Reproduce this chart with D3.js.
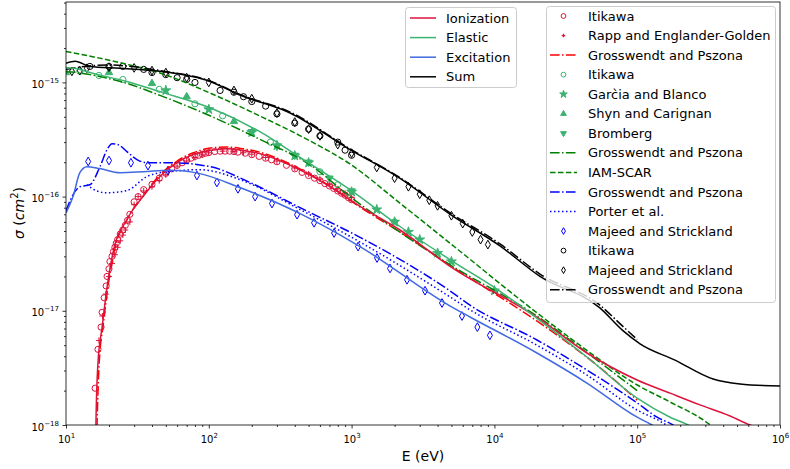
<!DOCTYPE html>
<meta charset="utf-8">
<script src="https://d3js.org/d3.v7.min.js"></script>
<style>
body { margin: 0; background: #fff; }
text { font-family: "DejaVu Sans", sans-serif; }
</style>
<body>
<script>

// cross sections, [E (eV), sigma (cm^2)]
var ionization = [[16.1,5e-19],[16.2,1e-18],[16.75,3.5e-18],[17.9,7.2e-18],[19.4,1.62e-17],[21.3,3.2e-17],[26.7,6.3e-17],[34.6,1e-16],[45.5,1.5e-16],[59.8,1.98e-16],[77.4,2.33e-16],[102,2.53e-16],[134,2.63e-16],[174,2.53e-16],[228,2.38e-16],[389,1.83e-16],[673,1.27e-16],[1146,8.2e-17],[2180,5.1e-17],[4890,2.45e-17],[19860,8.8e-18],[44450,4.27e-18],[99800,2.48e-18],[170000,1.9e-18],[275000,1.5e-18],[447000,1.2e-18],[616000,1e-18],[800000,9e-19]];
var elastic = [[10,1.35e-15],[12.5,1.3e-15],[14.7,1.22e-15],[26.7,1.02e-15],[45.5,8.3e-16],[102,6.0e-16],[228,3.7e-16],[436,2.2e-16],[975,1.15e-16],[2170,5.5e-17],[5130,2.7e-17],[10400,1.55e-17],[19860,8.6e-18],[44450,3.94e-18],[100000,1.72e-18],[170000,1.17e-18],[227000,1e-18],[260000,9e-19]];
var excitation = [[10,7.2e-17],[11.2,1.0e-16],[12.5,1.62e-16],[14,1.83e-16],[17.3,1.76e-16],[23.9,1.62e-16],[34.6,1.65e-16],[53.5,1.7e-16],[86.8,1.59e-16],[165,1.2e-16],[436,7.1e-17],[1146,3.65e-17],[4900,1.1e-17],[6745,8.83e-18],[19860,4.27e-18],[44450,2.33e-18],[100000,1.17e-18],[127000,1e-18],[145000,9e-19]];
var sum = [[10,1.47e-15],[11.6,1.53e-15],[14.7,1.38e-15],[23.9,1.33e-15],[45.5,1.25e-15],[102,1.02e-15],[165,7.76e-16],[371,5.4e-16],[975,2.58e-16],[2170,1.45e-16],[4900,7.0e-17],[10940,3.7e-17],[20850,2.0e-17],[54800,1.06e-17],[79400,6.7e-18],[104700,5.14e-18],[184000,3.7e-18],[340000,2.53e-18],[525000,2.29e-18],[1e6,2.19e-18]];

var ionItikawa = [[16,2.1e-18],[16.75,4.6e-18],[17.6,7.2e-18],[17.9,9.7e-18],[18.5,1.3e-17],[19.1,1.65e-17],[19.4,2.0e-17],[20,2.33e-17],[20.3,2.7e-17],[21,3.0e-17],[21.5,3.3e-17],[22,3.6e-17],[22.5,3.9e-17],[23,4.2e-17],[24,4.7e-17],[25,5.1e-17],[26,5.6e-17],[27,6.2e-17],[28,7.0e-17],[30,9.0e-17],[32,1.0e-16],[35,1.15e-16],[40,1.28e-16],[45,1.45e-16],[50,1.6e-16],[55,1.75e-16],[60,1.88e-16],[65,1.98e-16],[70,2.08e-16],[75,2.17e-16],[80,2.25e-16],[85,2.3e-16],[90,2.35e-16],[95,2.4e-16],[100,2.43e-16],[110,2.48e-16],[120,2.5e-16],[130,2.5e-16],[140,2.5e-16],[150,2.48e-16],[160,2.45e-16],[180,2.4e-16],[200,2.33e-16],[225,2.25e-16],[250,2.17e-16],[275,2.1e-16],[300,2.02e-16],[350,1.88e-16],[400,1.75e-16],[450,1.63e-16],[500,1.53e-16],[550,1.45e-16],[600,1.38e-16],[650,1.3e-16],[700,1.24e-16],[750,1.18e-16],[800,1.12e-16],[850,1.07e-16],[900,1.03e-16],[950,9.8e-17],[1000,9.4e-17]];
var ionRapp = [[17,5.5e-18],[18,9e-18],[19,1.4e-17],[20,2.0e-17],[21,2.6e-17],[22,3.1e-17],[23,3.6e-17],[24,4.1e-17],[25,4.6e-17],[26,5.1e-17],[28,6.0e-17],[30,8.5e-17],[32,1.0e-16],[35,1.12e-16],[40,1.22e-16],[45,1.38e-16],[50,1.55e-16],[60,1.85e-16],[70,2.05e-16],[80,2.2e-16],[90,2.32e-16],[100,2.42e-16],[125,2.5e-16],[150,2.48e-16],[175,2.42e-16],[200,2.35e-16],[250,2.2e-16],[300,2.05e-16],[400,1.78e-16],[500,1.58e-16],[600,1.42e-16],[700,1.28e-16],[800,1.17e-16],[900,1.07e-16],[1000,9.8e-17]];
var ionGP = [[16.3,5e-19],[16.5,1e-18],[17.1,3.6e-18],[18.2,7.4e-18],[19.7,1.65e-17],[21.6,3.2e-17],[27,6.4e-17],[35,1.03e-16],[45.5,1.55e-16],[60,2.05e-16],[78,2.42e-16],[100,2.65e-16],[134,2.72e-16],[174,2.62e-16],[228,2.45e-16],[389,1.87e-16],[673,1.28e-16],[1146,8.1e-17],[2180,4.9e-17],[4890,2.5e-17],[25700,6.5e-18],[57500,3.03e-18],[100000,1.65e-18]];

var elItikawa = [[12.5,1.25e-15],[17,1.15e-15],[25,1.06e-15],[45,8.7e-16],[80,6.5e-16],[125,5.1e-16],[270,3.0e-16],[600,1.65e-16],[800,1.27e-16],[2000,6.0e-17]];
var elGarcia = [[50,8.5e-16],[100,5.8e-16],[200,3.65e-16],[300,2.8e-16],[400,2.28e-16],[500,1.98e-16],[1000,1.1e-16],[1500,7.7e-17],[2000,6.0e-17],[2500,4.9e-17],[3000,4.2e-17],[4000,3.2e-17],[5000,2.7e-17],[10000,1.5e-17]];
var elShyn = [[10,1.22e-15],[20,1.22e-15],[40,9.8e-16],[70,7.5e-16],[150,4.55e-16]];
var elBromberg = [[200,3.7e-16],[300,2.75e-16],[400,2.3e-16],[500,2.0e-16],[700,1.45e-16],[1000,1.12e-16]];
var elGP = [[10,1.24e-15],[12,1.22e-15],[14.7,1.17e-15],[26.7,9.8e-16],[45.5,7.7e-16],[102,5.1e-16],[228,3.17e-16],[512,1.9e-16],[975,1.0e-16],[2170,4.9e-17],[4900,2.53e-17],[19860,9.0e-18],[44450,4.3e-18],[100000,2.0e-18]];
var elIAM = [[10,1.87e-15],[26.7,1.44e-15],[45.5,1.21e-15],[102,8.07e-16],[228,5.08e-16],[512,3.07e-16],[975,1.93e-16],[2170,8.8e-17],[4900,3.9e-17],[19860,9.6e-18],[44450,4.5e-18],[100000,2.24e-18],[170000,1.59e-18],[325000,1e-18],[360000,9e-19]];

var exGP = [[10,7.5e-17],[10.2,8.0e-17],[12.5,1.22e-16],[14.7,1.27e-16],[17.3,1.83e-16],[19.4,2.58e-16],[21,2.91e-16],[23.2,2.85e-16],[26.7,2.48e-16],[31.4,2.11e-16],[36.9,1.98e-16],[53.5,1.98e-16],[102,1.83e-16],[194,1.33e-16],[436,8.0e-17],[1146,4.4e-17],[4900,1.49e-17],[6745,1.12e-17],[19860,5.55e-18],[44450,3.03e-18],[100000,1.56e-18],[137700,1.17e-18],[178000,1e-18],[200000,9e-19]];
var exPorter = [[14,1.27e-16],[16.5,1.12e-16],[19.4,1.08e-16],[26.7,1.13e-16],[36.9,1.5e-16],[51,1.65e-16],[86.8,1.72e-16],[165,1.41e-16],[436,7.7e-17],[1146,4.0e-17],[4900,1.32e-17],[6745,1.02e-17],[19860,5.0e-18],[44450,2.74e-18],[100000,1.35e-18],[152000,1.04e-18],[180000,9e-19]];
var exMajeed = [[14.3,2.03e-16],[20,2.07e-16],[28.5,1.98e-16],[37.5,1.87e-16],[51.8,1.69e-16],[82.6,1.53e-16],[114,1.33e-16],[160,1.17e-16],[211,1.0e-16],[277,8.7e-17],[415,6.95e-17],[546,5.9e-17],[754,4.8e-17],[1110,3.65e-17],[1507,2.9e-17],[1858,2.35e-17],[2444,1.87e-17],[3267,1.5e-17],[4296,1.17e-17],[5928,9.0e-18],[7600,7.2e-18],[9300,6.1e-18]];

var totItikawa = [[14.7,1.38e-15],[20,1.38e-15],[25,1.38e-15],[35,1.3e-15],[40,1.22e-15],[50,1.17e-15],[60,1.1e-15],[70,1.06e-15],[80,1.0e-15],[120,8.5e-16],[150,8.2e-16],[175,7.5e-16],[200,6.8e-16],[250,6.2e-16],[300,5.3e-16],[400,4.4e-16],[500,3.9e-16],[600,3.4e-16],[800,3.0e-16],[900,2.55e-16],[1000,2.3e-16]];
var totMajeed = [[11,1.25e-15],[12.5,1.27e-15],[14,1.33e-15],[20,1.36e-15],[30,1.34e-15],[40,1.27e-15],[50,1.22e-15],[70,1.1e-15],[100,1.0e-15],[150,8.5e-16],[200,7.2e-16],[300,5.4e-16],[400,4.5e-16],[500,3.9e-16],[600,3.4e-16],[800,2.85e-16],[1000,2.4e-16],[1500,1.8e-16],[2000,1.45e-16],[2500,1.22e-16],[3000,1.05e-16],[3500,9.3e-17],[4000,8.3e-17],[5000,6.8e-17],[6000,5.8e-17],[7000,4.9e-17],[8000,4.2e-17],[9000,3.8e-17]];
var totGP = [[10,1.3e-15],[12,1.35e-15],[15,1.4e-15],[20,1.42e-15],[30,1.37e-15],[45.5,1.27e-15],[102,1.03e-15],[165,7.85e-16],[371,5.5e-16],[975,2.62e-16],[2170,1.47e-16],[4900,7.2e-17],[10940,3.85e-17],[20850,2.1e-17],[54800,1.12e-17],[79400,7.3e-18],[100000,5.6e-18]];

var xTicks = [10, 100, 1000, 1e4, 1e5, 1e6];
var xTickExp = ["1", "2", "3", "4", "5", "6"];
var yTicks = [1e-18, 1e-17, 1e-16, 1e-15];
var yTickExp = ["\u221218", "\u221217", "\u221216", "\u221215"];

var width = 790, height = 469;
var crimson = "#dc143c", seagreen = "#3cb371", royal = "#4169e1";
var dashDot = "9.6,2.4,1.5,2.4", dashed = "5.55,2.4", dotted = "1.5,2.5";

var x = d3.scaleLog().domain([10, 1e6]).range([66, 780]);
var y = d3.scaleLog().domain([1e-18, 5.06e-15]).range([425, 2]);

var svg = d3.select("body").append("svg")
    .attr("width", width)
    .attr("height", height);

svg.append("defs").append("clipPath").attr("id", "clip")
  .append("rect")
    .attr("x", 66).attr("y", 2)
    .attr("width", 714).attr("height", 423);

// axes
var xMinor = x.ticks().filter(function(d) { return xTicks.indexOf(d) < 0; });
var yMinor = y.ticks().filter(function(d) { return yTicks.indexOf(d) < 0; });

var gx = svg.append("g")
    .attr("transform", "translate(0,425)")
    .call(d3.axisBottom(x).tickValues(xTicks).tickSize(3.5).tickPadding(3.5).tickSizeOuter(0));
svg.append("g")
    .attr("transform", "translate(0,425)")
    .call(d3.axisBottom(x).tickValues(xMinor).tickSize(2).tickFormat("").tickSizeOuter(0));

var gy = svg.append("g")
    .attr("transform", "translate(66,0)")
    .call(d3.axisLeft(y).tickValues(yTicks).tickSize(3.5).tickPadding(3.5).tickSizeOuter(0));
svg.append("g")
    .attr("transform", "translate(66,0)")
    .call(d3.axisLeft(y).tickValues(yMinor).tickSize(2).tickFormat("").tickSizeOuter(0));

svg.selectAll(".domain").remove();
svg.selectAll(".tick line").attr("stroke", "#000").attr("stroke-width", 0.8);

gx.selectAll(".tick text").each(function(d, i) {
  var t = d3.select(this).text(null)
      .attr("font-family", "DejaVu Sans").attr("font-size", 10).attr("fill", "#000")
      .attr("dy", "1.05em");
  t.append("tspan").text("10");
  t.append("tspan").attr("dy", -5).attr("font-size", 7).text(xTickExp[i]);
});

gy.selectAll(".tick text").each(function(d, i) {
  var t = d3.select(this).text(null)
      .attr("font-family", "DejaVu Sans").attr("font-size", 10).attr("fill", "#000")
      .attr("dy", 5);
  t.append("tspan").text("10");
  t.append("tspan").attr("dy", -5).attr("font-size", 7).text(yTickExp[i]);
});

svg.append("text")
    .attr("x", 423).attr("y", 461)
    .attr("text-anchor", "middle")
    .attr("font-size", 14)
    .text("E (eV)");

var ylab = svg.append("text")
    .attr("transform", "translate(24,213) rotate(-90)")
    .attr("text-anchor", "middle")
    .attr("font-size", 14);
ylab.append("tspan").attr("font-style", "italic").text("\u03c3");
ylab.append("tspan").text(" (");
ylab.append("tspan").attr("font-style", "italic").text("cm");
ylab.append("tspan").attr("dy", -6).attr("font-size", 10).text("2");
ylab.append("tspan").attr("dy", 6).text(")");

// plot area
var plot = svg.append("g").attr("clip-path", "url(#clip)");

var line = d3.line()
    .curve(d3.curveMonotoneX)
    .x(function(d) { return x(d[0]); })
    .y(function(d) { return y(d[1]); });

function drawLine(data, color, dash) {
  plot.append("path")
      .datum(data)
      .attr("fill", "none")
      .attr("stroke", color)
      .attr("stroke-width", 1.5)
      .attr("stroke-dasharray", dash)
      .attr("d", line);
}

function symbolPath(kind, s) {
  if (kind == "circle") return d3.symbol(d3.symbolCircle, 30 * s)();
  if (kind == "plus") return "M" + (-3 * s) + ",0H" + (3 * s) + "M0," + (-3 * s) + "V" + (3 * s);
  if (kind == "star") return d3.symbol(d3.symbolStar, 30 * s)();
  if (kind == "tri") return d3.symbol(d3.symbolTriangle, 24 * s)();
  if (kind == "diamond") return d3.symbol(d3.symbolDiamond, 22 * s)();
}

function drawMarkers(data, kind, color, filled, rot) {
  plot.selectAll(null)
      .data(data)
      .enter().append("path")
      .attr("transform", function(d) { return "translate(" + x(d[0]) + "," + y(d[1]) + ")" + (rot ? " rotate(180)" : ""); })
      .attr("d", symbolPath(kind, 1))
      .attr("fill", filled ? color : "none")
      .attr("stroke", color)
      .attr("stroke-width", 1);
}

drawMarkers(ionItikawa, "circle", crimson, false);
drawMarkers(ionRapp, "plus", crimson, false);
drawMarkers(elItikawa, "circle", seagreen, false);
drawMarkers(elGarcia, "star", seagreen, true);
drawMarkers(elShyn, "tri", seagreen, true);
drawMarkers(elBromberg, "tri", seagreen, true, true);
drawMarkers(exMajeed, "diamond", "#0000ff", false);
drawMarkers(totItikawa, "circle", "#000", false);
drawMarkers(totMajeed, "diamond", "#000", false);

drawLine(ionGP, "#ff0000", dashDot);
drawLine(elGP, "#008000", dashDot);
drawLine(elIAM, "#008000", dashed);
drawLine(exGP, "#0000ff", dashDot);
drawLine(exPorter, "#0000ff", dotted);
drawLine(totGP, "#000", dashDot);

drawLine(ionization, crimson, null);
drawLine(elastic, seagreen, null);
drawLine(excitation, royal, null);
drawLine(sum, "#000", null);

// frame
svg.append("rect")
    .attr("x", 66).attr("y", 2)
    .attr("width", 714).attr("height", 423)
    .attr("fill", "none")
    .attr("stroke", "#000")
    .attr("stroke-width", 0.8);

// legends
var legend1 = [["Ionization", crimson], ["Elastic", seagreen], ["Excitation", royal], ["Sum", "#000"]];
var legend2 = [
  ["Itikawa", crimson, "circle"],
  ["Rapp and Englander-Golden", crimson, "plus"],
  ["Grosswendt and Pszona", "#ff0000", "dashdot"],
  ["Itikawa", seagreen, "circle"],
  ["Garc\u0300ia and Blanco", seagreen, "star"],
  ["Shyn and Carignan", seagreen, "tri"],
  ["Bromberg", seagreen, "tridown"],
  ["Grosswendt and Pszona", "#008000", "dashdot"],
  ["IAM-SCAR", "#008000", "dashed"],
  ["Grosswendt and Pszona", "#0000ff", "dashdot"],
  ["Porter et al.", "#0000ff", "dotted"],
  ["Majeed  and Strickland", "#0000ff", "diamond"],
  ["Itikawa", "#000", "circle"],
  ["Majeed and Strickland", "#000", "diamond"],
  ["Grosswendt and Pszona", "#000", "dashdot"]
];

var l1 = svg.append("g");
l1.append("rect")
    .attr("x", 405.5).attr("y", 7.5).attr("width", 111).attr("height", 80)
    .attr("rx", 3).attr("fill", "#fff").attr("fill-opacity", 0.8)
    .attr("stroke", "#ccc");
var e1 = l1.selectAll(".e").data(legend1).enter().append("g")
    .attr("transform", function(d, i) { return "translate(0," + (18 + i * 19.6) + ")"; });
e1.append("line").attr("x1", 410).attr("x2", 436)
    .attr("stroke", function(d) { return d[1]; }).attr("stroke-width", 1.5);
e1.append("text").attr("x", 446).attr("dy", "0.35em").attr("font-size", 13)
    .text(function(d) { return d[0]; });

var l2 = svg.append("g");
l2.append("rect")
    .attr("x", 546.5).attr("y", 6.5).attr("width", 229).attr("height", 296)
    .attr("rx", 3).attr("fill", "#fff").attr("fill-opacity", 0.8)
    .attr("stroke", "#ccc");
var e2 = l2.selectAll(".e").data(legend2).enter().append("g")
    .attr("transform", function(d, i) { return "translate(0," + (16 + i * 19.55) + ")"; });
e2.each(function(d) {
  var g = d3.select(this);
  var k = d[2];
  if (k == "dashdot" || k == "dashed" || k == "dotted") {
    g.append("line").attr("x1", 550).attr("x2", 577)
        .attr("stroke", d[1]).attr("stroke-width", 1.5)
        .attr("stroke-dasharray", k == "dashdot" ? dashDot : (k == "dashed" ? dashed : dotted));
  } else {
    var kind = k == "tridown" ? "tri" : k;
    g.append("path")
        .attr("transform", "translate(563.5,0)" + (k == "tridown" ? " rotate(180)" : ""))
        .attr("d", symbolPath(kind, 0.6))
        .attr("fill", (k == "star" || k == "tri" || k == "tridown") ? d[1] : "none")
        .attr("stroke", d[1]).attr("stroke-width", k == "plus" ? 1.3 : 1);
  }
  g.append("text").attr("x", 588).attr("dy", "0.35em").attr("font-size", 13).text(d[0]);
});

</script>
